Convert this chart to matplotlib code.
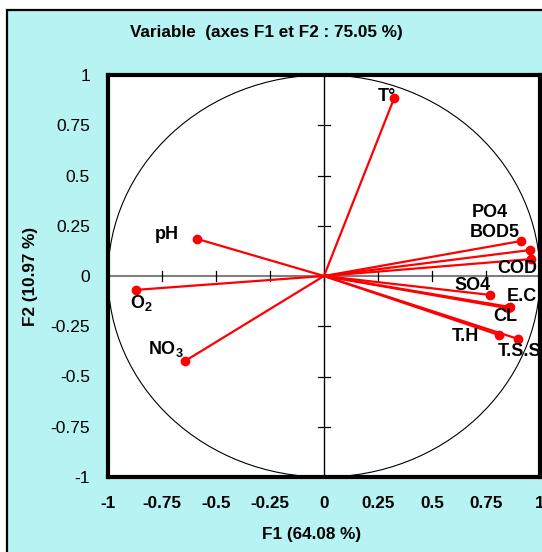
import numpy as np
import matplotlib
matplotlib.use("Agg")
import matplotlib.pyplot as plt
from matplotlib.patches import Ellipse, Rectangle

plt.rcParams['font.family'] = ['Liberation Sans', 'DejaVu Sans']
plt.rcParams['mathtext.fontset'] = 'custom'
plt.rcParams['mathtext.rm'] = 'Liberation Sans:bold'
plt.rcParams['mathtext.bf'] = 'Liberation Sans:bold'
plt.rcParams['mathtext.it'] = 'Liberation Sans:bold'

# variable loadings on F1 / F2
variables = ["T°", "pH", "O$_2$", "NO$_3$", "PO4", "BOD5", "COD",
             "SO4", "E.C", "CL", "T.H", "T.S.S"]
f1 = [0.326, -0.586, -0.870, -0.642, 0.912, 0.953, 0.958,
      0.767, 0.860, 0.850, 0.809, 0.898]
f2 = [0.888, 0.184, -0.069, -0.422, 0.174, 0.129, 0.084,
      -0.094, -0.154, -0.160, -0.293, -0.313]
# label offsets in pixels
label_dx = [-8, -31, 5, -19, -31, -35, -14, -17, 12, -2, -33, 2]
label_dy = [1, 5, -13, 12, 29, 18, -9, 9, 10, -8, -2, -13]

xticks = [-1, -0.75, -0.5, -0.25, 0, 0.25, 0.5, 0.75, 1]
yticks = [-1, -0.75, -0.5, -0.25, 0, 0.25, 0.5, 0.75, 1]

cyan = "#b7f3f3"
W, H = 542, 552
fig = plt.figure(figsize=(W / 100, H / 100), dpi=100)
fig.patch.set_facecolor("white")
fig.patches.append(Rectangle((7 / W, -0.1), 1.2, 1 - 10 / H + 0.1,
                             transform=fig.transFigure, facecolor=cyan,
                             edgecolor="black", linewidth=1.6, zorder=-10))

ax = fig.add_axes([108 / W, 1 - 477 / H, 432 / W, 402 / H])
ax.set_zorder(5)
ax.set_facecolor("white")
ax.set_xlim(-1, 1)
ax.set_ylim(-1, 1)
for s in ax.spines.values():
    s.set_linewidth(3)
    s.set_color("black")

ax.set_xticks(xticks)
ax.set_xticklabels([f"{t:g}" for t in xticks], fontsize=12.3, fontweight="bold")
ax.set_yticks(yticks)
ax.set_yticklabels([f"{t:g}" for t in yticks], fontsize=12.5)
ax.tick_params(axis="x", length=0, pad=14)
ax.tick_params(axis="y", length=0, pad=13)

# unit circle
ax.add_patch(Ellipse((0, 0), 2, 2, fill=False, edgecolor="black", linewidth=0.8))

# center axes with ticks
ax.axhline(0, color="#808080", linewidth=1.5, zorder=1)
ax.axvline(0, color="black", linewidth=1.0, zorder=1)
for t in xticks[1:-1]:
    ax.plot([t, t], [-0.025, 0.025], color="black", linewidth=0.9, zorder=1)
for t in yticks[1:-1]:
    ax.plot([-0.026, 0.026], [t, t], color="black", linewidth=0.9, zorder=1)

for name, x, y, dx, dy in zip(variables, f1, f2, label_dx, label_dy):
    ax.plot([0, x], [0, y], color="red", linewidth=1.6, zorder=3)
    ax.plot(x, y, "o", color="red", markersize=6, zorder=4)
    ax.annotate(name, (x, y), xytext=(dx, dy), textcoords="offset pixels",
                ha="center", va="center", fontsize=13, fontweight="bold", zorder=5)

fig.text(266 / W, 1 - 32 / H, "Variable  (axes F1 et F2 : 75.05 %)",
         ha="center", va="center", fontsize=12.3, fontweight="bold")
fig.text(312 / W, 1 - 535 / H, "F1 (64.08 %)",
         ha="center", va="center", fontsize=12.3, fontweight="bold")
fig.text(30 / W, 1 - 276 / H, "F2 (10.97 %)", rotation=90,
         ha="center", va="center", fontsize=12.3, fontweight="bold")

fig.savefig("out.png", dpi=100)
